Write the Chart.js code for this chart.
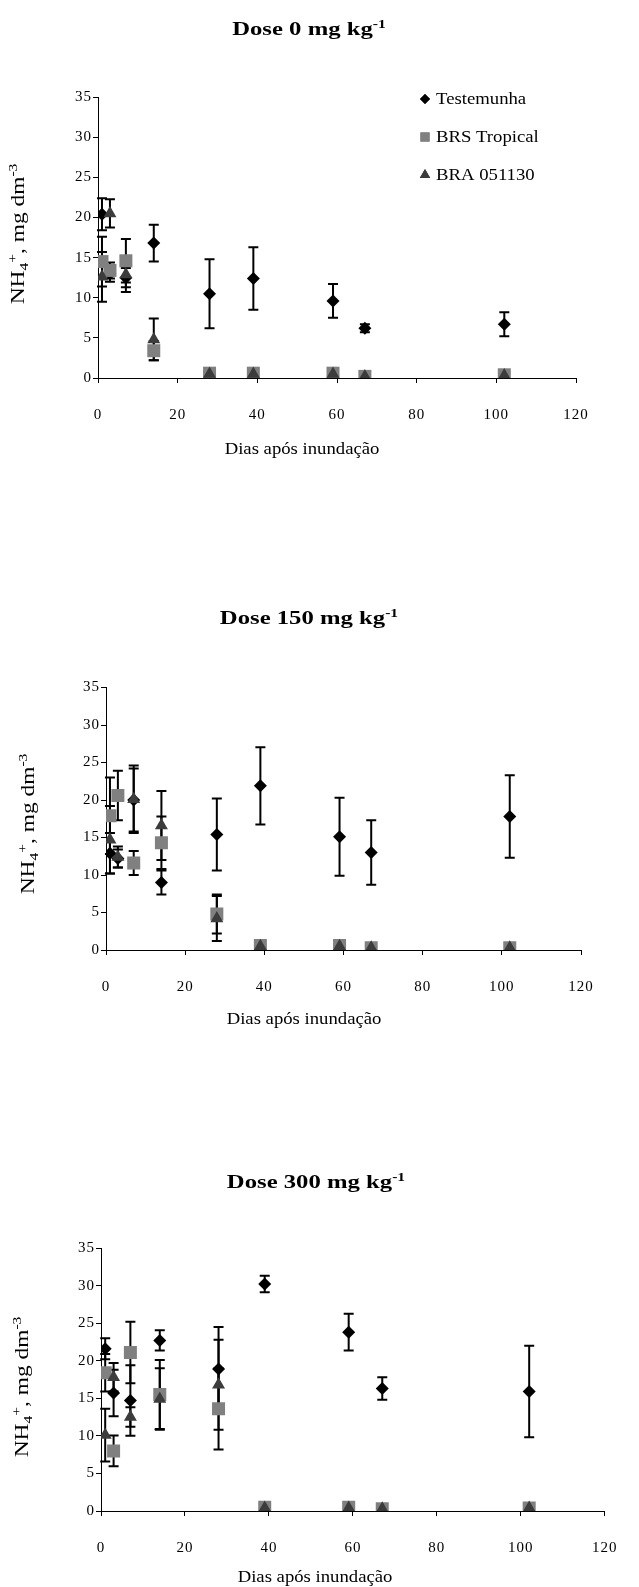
<!DOCTYPE html>
<html>
<head>
<meta charset="utf-8">
<script src="https://cdn.jsdelivr.net/npm/chart.js@4.4.1/dist/chart.umd.min.js"></script>
<style>
  html, body { margin: 0; padding: 0; background: #fff; }
  body { width: 639px; height: 1587px; position: relative; overflow: hidden; }
  canvas { position: absolute; left: 0; }
</style>
</head>
<body>
<canvas id="dose0" width="639" height="480" style="top:0px"></canvas>
<canvas id="dose150" width="639" height="500" style="top:560px"></canvas>
<canvas id="dose300" width="639" height="487" style="top:1100px"></canvas>
<script>
// sampling days after flooding
const days = [1, 3, 7, 14, 28, 39, 59, 67, 102];
const seriesNames = ['Testemunha', 'BRS Tropical', 'BRA 051130'];
const xTicks = [0, 20, 40, 60, 80, 100, 120];
const yTicks = [0, 5, 10, 15, 20, 25, 30, 35];

// NH4+ (mg dm-3) and standard errors, dose 0
const test0 = [20.4, 13.0, 12.5, 16.8, 10.5, 12.4, 9.6, 6.2, 6.7];
const test0Err = [2.0, 1.0, 1.2, 2.3, 4.3, 3.9, 2.1, 0.5, 1.5];
const brs0 = [14.5, 13.4, 14.6, 3.4, 0.6, 0.6, 0.6, 0.2, 0.4];
const brs0Err = [3.1, 1.0, 2.7, 1.2, 0, 0, 0, 0, 0];
const bra0 = [12.6, 20.5, 12.9, 4.8, 0.5, 0.5, 0.5, 0.2, 0.3];
const bra0Err = [3.1, 1.75, 2.2, 2.6, 0, 0, 0, 0, 0];

// dose 150
const test150 = [12.9, 12.2, 20.0, 9.0, 15.4, 21.9, 15.1, 13.0, 17.8];
const test150Err = [2.7, 1.2, 4.2, 1.6, 4.8, 5.15, 5.2, 4.3, 5.5];
const brs150 = [17.9, 20.6, 11.6, 14.3, 4.8, 0.6, 0.6, 0.3, 0.3];
const brs150Err = [5.1, 3.3, 1.6, 3.5, 2.6, 0, 0, 0, 0];
const bra150 = [14.7, 12.4, 20.1, 16.6, 4.2, 0.5, 0.5, 0.3, 0.3];
const bra150Err = [4.5, 1.4, 4.5, 4.6, 3.0, 0, 0, 0, 0];

// dose 300
const test300 = [21.6, 15.7, 14.7, 22.7, 18.9, 30.2, 23.8, 16.3, 15.9];
const test300Err = [1.4, 3.1, 4.7, 1.35, 5.6, 1.1, 2.45, 1.5, 6.1];
const brs300 = [18.4, 8.0, 21.1, 15.5, 13.6, 0.5, 0.5, 0.3, 0.4];
const brs300Err = [2.5, 2.05, 4.1, 4.6, 5.4, 0, 0, 0, 0];
const bra300 = [10.1, 17.8, 12.5, 14.9, 16.8, 0.4, 0.4, 0.3, 0.4];
const bra300Err = [3.5, 1.9, 1.3, 4.1, 6.0, 0, 0, 0, 0];

const SERIF = "'Liberation Serif', 'Times New Roman', serif";
const styles = [
  { pointStyle: 'rectRot', radius: 6.5, color: '#000000', legendR: 5 },
  { pointStyle: 'rect', radius: 9.2, color: '#808080', legendR: 6.5 },
  { pointStyle: 'triangle', radius: 7.5, color: '#3c3c3c', legendR: 6 }
];

function points(vals, errs) {
  return days.map((d, i) => ({ x: d, y: vals[i], e: errs[i] }));
}

// text pieces with sub/superscripts, centred on (x, y), stretched by sx
function richText(ctx, parts, x, y, size, sx, weight, align) {
  const small = Math.round(size * 0.65);
  const fontOf = p => `${weight || ''} ${p.sup || p.sub ? small : size}px ${SERIF}`;
  ctx.save();
  ctx.letterSpacing = '0px';
  ctx.translate(x, y);
  ctx.scale(sx, 1);
  let w = 0;
  parts.forEach(p => { ctx.font = fontOf(p); w += ctx.measureText(p.t).width; });
  let cx = align === 'left' ? 0 : -w / 2;
  ctx.textAlign = 'left';
  ctx.textBaseline = 'alphabetic';
  parts.forEach(p => {
    ctx.font = fontOf(p);
    const dy = p.sup ? -size * 0.38 : p.sub ? size * 0.22 : 0;
    ctx.fillText(p.t, cx, dy);
    cx += ctx.measureText(p.t).width;
  });
  ctx.restore();
}

const errorBars = {
  id: 'errorBars',
  beforeDatasetsDraw(chart) {
    const { ctx, scales: { x, y } } = chart;
    ctx.save();
    ctx.strokeStyle = '#000';
    ctx.lineWidth = 2;
    chart.data.datasets.forEach(ds => {
      ds.data.forEach(p => {
        if (!p.e) return;
        const px = x.getPixelForValue(p.x);
        const top = y.getPixelForValue(p.y + p.e);
        const bot = y.getPixelForValue(p.y - p.e);
        ctx.beginPath();
        ctx.moveTo(px, top); ctx.lineTo(px, bot);
        ctx.moveTo(px - 5, top); ctx.lineTo(px + 5, top);
        ctx.moveTo(px - 5, bot); ctx.lineTo(px + 5, bot);
        ctx.stroke();
      });
    });
    ctx.restore();
  }
};

const labels = {
  id: 'labels',
  beforeDraw(chart) {
    // slightly wider tick numbers
    chart.ctx.letterSpacing = '1px';
  },
  afterDraw(chart, args, opts) {
    const { ctx } = chart;
    ctx.save();
    ctx.fillStyle = '#000';
    richText(ctx, [{ t: opts.title }, { t: '-1', sup: true }], opts.titleX, opts.titleY, 19, 1.3, 'bold');
    richText(ctx, [{ t: 'Dias após inundação' }], opts.xTitleX, opts.xTitleY, 17, 1.1);
    ctx.translate(opts.yTitleX, opts.yTitleY);
    ctx.rotate(-Math.PI / 2);
    richText(ctx, [{ t: 'NH' }, { t: '4', sub: true }, { t: '+', sup: true }, { t: ', mg dm' }, { t: '-3', sup: true }], 0, 0, 18, 1.3);
    ctx.restore();

    if (opts.legend) {
      ctx.save();
      seriesNames.forEach((name, i) => {
        const ly = opts.legend.y + i * opts.legend.gap;
        ctx.fillStyle = styles[i].color;
        Chart.helpers.drawPoint(ctx, { pointStyle: styles[i].pointStyle, radius: styles[i].legendR, rotation: 0, borderWidth: 0 }, opts.legend.x, ly);
        ctx.fill();
        ctx.fillStyle = '#000';
        richText(ctx, [{ t: name }], opts.legend.x + 11, ly + 5, 16, 1.17, '', 'left');
      });
      ctx.restore();
    }
  }
};

function makeChart(id, frame, series, text) {
  const canvas = document.getElementById(id);
  const H = canvas.height;
  const axisW = 40, axisH = 60;
  const tickFont = { family: SERIF, size: 15 };
  return new Chart(canvas, {
    type: 'scatter',
    data: {
      datasets: series.map((s, i) => ({
        label: seriesNames[i],
        data: points(s[0], s[1]),
        pointStyle: styles[i].pointStyle,
        pointRadius: styles[i].radius,
        pointHoverRadius: styles[i].radius,
        backgroundColor: styles[i].color,
        borderColor: styles[i].color,
        borderWidth: 0,
        order: 3 - i
      }))
    },
    options: {
      responsive: false,
      animation: false,
      events: [],
      layout: {
        padding: {
          left: frame.left - axisW,
          right: 639 - frame.right,
          top: frame.top,
          bottom: H - frame.bottom - axisH
        }
      },
      plugins: {
        legend: { display: false },
        tooltip: { enabled: false },
        labels: text
      },
      scales: {
        x: {
          type: 'linear', min: 0, max: 120,
          afterFit: s => { s.height = axisH; },
          afterBuildTicks: s => { s.ticks = xTicks.map(v => ({ value: v })); },
          ticks: { font: tickFont, color: '#000', padding: 23 },
          grid: { drawOnChartArea: false, tickLength: 5, color: '#000' },
          border: { color: '#000', width: 1 }
        },
        y: {
          type: 'linear', min: 0, max: 35,
          afterFit: s => { s.width = axisW; },
          afterBuildTicks: s => { s.ticks = yTicks.map(v => ({ value: v })); },
          ticks: { font: tickFont, color: '#000', padding: 1 },
          grid: { drawOnChartArea: false, tickLength: 5, color: '#000' },
          border: { color: '#000', width: 1 }
        }
      }
    },
    plugins: [errorBars, labels]
  });
}

makeChart('dose0', { left: 98, right: 576, top: 97, bottom: 378 },
  [[test0, test0Err], [brs0, brs0Err], [bra0, bra0Err]],
  { title: 'Dose 0 mg kg', titleX: 309, titleY: 35, xTitleX: 302, xTitleY: 454,
    yTitleX: 24, yTitleY: 234, legend: { x: 425, y: 99, gap: 38 } });

makeChart('dose150', { left: 106, right: 581, top: 127.5, bottom: 390 },
  [[test150, test150Err], [brs150, brs150Err], [bra150, bra150Err]],
  { title: 'Dose 150 mg kg', titleX: 309, titleY: 64, xTitleX: 304, xTitleY: 464,
    yTitleX: 34, yTitleY: 264 });

makeChart('dose300', { left: 101, right: 615, top: 148, bottom: 411 },
  [[test300, test300Err], [brs300, brs300Err], [bra300, bra300Err]],
  { title: 'Dose 300 mg kg', titleX: 316, titleY: 88, xTitleX: 315, xTitleY: 482,
    yTitleX: 28, yTitleY: 287 });
</script>
</body>
</html>
